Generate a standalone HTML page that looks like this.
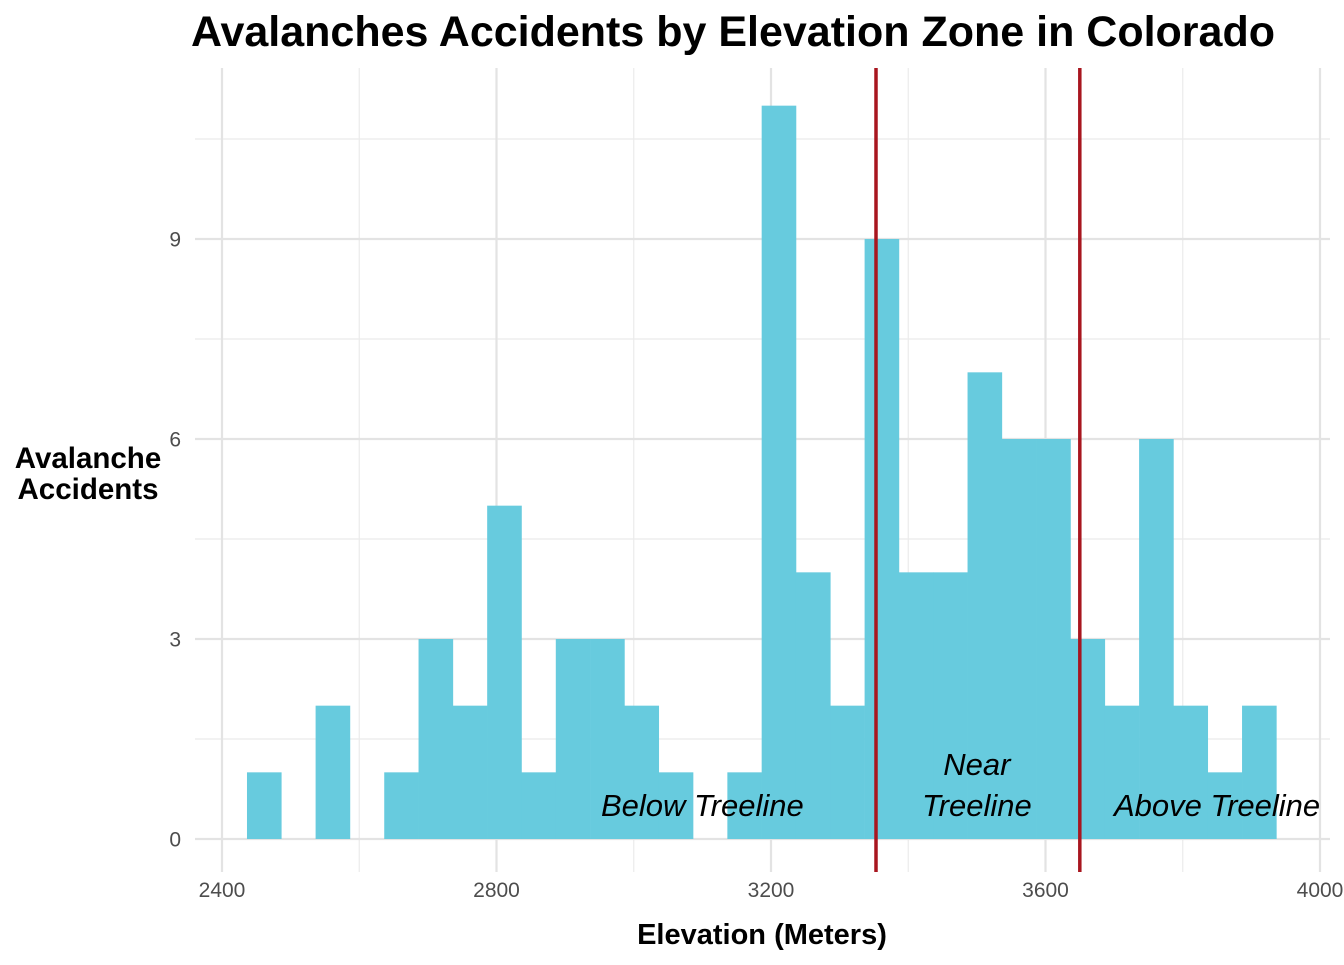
<!DOCTYPE html>
<html><head><meta charset="utf-8"><style>
body{margin:0;background:#fff;}
svg text{font-family:"Liberation Sans",Arial,sans-serif;}
</style></head><body>
<svg id="chart" width="1344" height="960" xmlns="http://www.w3.org/2000/svg">
<text x="733" y="46" text-anchor="middle" font-size="43" font-weight="bold" fill="#000">Avalanches Accidents by Elevation Zone in Colorado</text>
<g id="grid"></g>
<g id="bars"></g>
<g id="lines"></g>
<g id="labels"></g>
<text x="762" y="944" text-anchor="middle" font-size="29" font-weight="bold">Elevation (Meters)</text>
<text text-anchor="middle" font-size="29.5" font-weight="bold"><tspan x="88" y="468">Avalanche</tspan><tspan x="88" y="499">Accidents</tspan></text>
</svg>
<script>
const binStart = 2436.4;
const binWidth = 50;
const counts = [1,0,2,0,1,3,2,5,1,3,3,2,1,0,1,11,4,2,9,4,4,7,6,6,3,2,6,2,1,2];
const xTicks = [2400,2800,3200,3600,4000];
const xMinor = [2600,3000,3400,3800];
const yTicks = [0,3,6,9];
const yMinor = [1.5,4.5,7.5,10.5];
const zoneLines = [3353,3650];
const zoneLabels = [["Below Treeline"],["Near","Treeline"],["Above Treeline"]];
const zoneLabelX = [3100,3500,3850];

const NS="http://www.w3.org/2000/svg";
const x = v => 222 + (v-2400)*274.5/400;
const y = v => 839 - v*66.667;
const L=195,R=1330,T=68,B=872;
function mk(tag,attrs,parent){const e=document.createElementNS(NS,tag);for(const k in attrs)e.setAttribute(k,attrs[k]);document.getElementById(parent).appendChild(e);return e;}

xMinor.forEach(v=>{const e=mk('line',{x1:x(v),x2:x(v),y1:T,y2:B,stroke:'#ebebeb','stroke-width':1.2},'grid');

});
yMinor.forEach(v=>{const e=mk('line',{x1:L,x2:R,y1:y(v),y2:y(v),stroke:'#ebebeb','stroke-width':1.2},'grid');

});
xTicks.forEach(v=>{const e=mk('line',{x1:x(v),x2:x(v),y1:T,y2:B,stroke:'#e3e3e3','stroke-width':2.2},'grid');


const t=mk('text',{x:x(v),y:897,'text-anchor':'middle','font-size':21,fill:'#4d4d4d'},'grid');t.textContent=v;

});
yTicks.forEach(v=>{const e=mk('line',{x1:L,x2:R,y1:y(v),y2:y(v),stroke:'#e3e3e3','stroke-width':2.2},'grid');


const t=mk('text',{x:181,y:y(v)+7.5,'text-anchor':'end','font-size':21,fill:'#4d4d4d'},'grid');t.textContent=v;

});

counts.forEach((c,i)=>{if(!c)return;const x0=x(binStart+i*binWidth),x1=x(binStart+(i+1)*binWidth);
const r=mk('rect',{x:x0,y:y(c),width:x1-x0+0.3,height:y(0)-y(c),fill:'#67cbde'},'bars');

});

zoneLines.forEach(v=>{const e=mk('line',{x1:x(v),x2:x(v),y1:T,y2:B,stroke:'#a8161f','stroke-width':3.5},'lines');

});

zoneLabels.forEach((lines,i)=>{lines.forEach((s,j)=>{const yy=816-(lines.length-1-j)*41;
const t=mk('text',{x:x(zoneLabelX[i]),y:yy,'text-anchor':'middle','font-size':31,'font-style':'italic',fill:'#000'},'labels');t.textContent=s;

});});
</script>
</body></html>
